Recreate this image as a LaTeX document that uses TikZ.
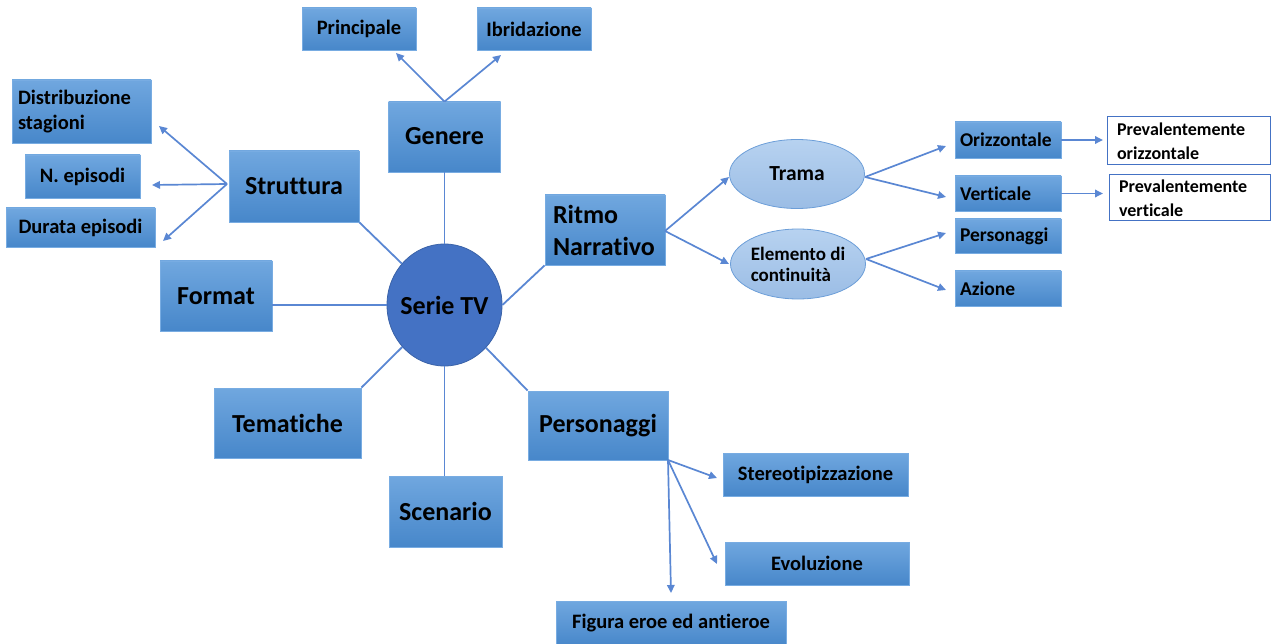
\documentclass[tikz,border=0pt]{standalone}
\usepackage{fontspec}
\setmainfont{Carlito}[Ligatures=NoCommon]
\usetikzlibrary{arrows.meta,shapes.geometric}
\definecolor{boxtop}{HTML}{70A7DF}
\definecolor{boxbot}{HTML}{4787CA}
\definecolor{boxline}{HTML}{78ACE2}
\definecolor{seriefill}{HTML}{4472C4}
\definecolor{serieline}{HTML}{3A62A8}
\definecolor{elltop}{HTML}{B7D2F0}
\definecolor{ellbot}{HTML}{9BBDE5}
\definecolor{ellline}{HTML}{6C9ED8}
\definecolor{conn}{HTML}{5A87D3}
\definecolor{prevline}{HTML}{4472C4}
\tikzset{
  bluebox/.style={rectangle, draw=boxline, line width=0.8pt, top color=boxtop, bottom color=boxbot, inner sep=0pt, text=black, font=\bfseries},
  bigtxt/.style={font=\fontsize{26}{32}\selectfont\bfseries},
  smalltxt/.style={font=\fontsize{20.5}{25}\selectfont\bfseries},
  righttxt/.style={font=\fontsize{19.5}{23}\selectfont\bfseries},
  lightell/.style={ellipse, draw=ellline, line width=0.8pt, top color=elltop, bottom color=ellbot, inner sep=0pt, text=black},
  prevbox/.style={rectangle, draw=prevline, line width=1pt, fill=white, inner sep=0pt, align=left, font=\fontsize{18}{24}\selectfont\bfseries},
  link/.style={draw=conn, line width=1.8pt},
  arr/.style={draw=conn, line width=1.7pt, -{Triangle[length=8pt,width=7.5pt]}},
}
\begin{document}
\begin{tikzpicture}[x=1pt,y=-1pt]
\useasboundingbox (0,0) rectangle (1271,644);
\begin{scope}
\clip (0,0) rectangle (1271,644);
% top level
\node[bluebox,bigtxt,minimum width=112pt,minimum height=70pt] (genere) at (444.5,137) {\raisebox{3pt}{Genere}};
\node[bluebox,smalltxt,minimum width=114pt,minimum height=42pt] (principale) at (359,29) {\raisebox{-4pt}{Principale}};
\node[bluebox,smalltxt,minimum width=114pt,minimum height=42pt] (ibrid) at (534,29) {Ibridazione};
\node[bluebox,bigtxt,minimum width=130pt,minimum height=71pt] (struttura) at (294,186.5) {Struttura};
\node[bluebox,smalltxt,minimum height=63pt,text width=127pt,inner xsep=6pt,align=left] (distrib) at (81.5,111.5) {Distribuzione\\stagioni};
\node[bluebox,smalltxt,minimum width=115pt,minimum height=43pt] (nepisodi) at (82.5,176.5) {N. episodi};
\node[bluebox,smalltxt,minimum width=149pt,minimum height=39pt] (durata) at (80.5,227.5) {Durata episodi};
\node[bluebox,bigtxt,minimum width=112pt,minimum height=70pt] (format) at (216,296) {Format};
\node[ellipse,draw=serieline,line width=0.8pt,fill=seriefill,minimum width=115pt,minimum height=122pt,inner sep=0pt,
      label={[bigtxt]center:Serie TV}] (serie) at (444.5,305) {};
\node[bluebox,bigtxt,minimum height=70pt,text width=104pt,inner xsep=8pt,align=left] (ritmo) at (605,230) {Ritmo\\Narrativo};
\node[bluebox,bigtxt,minimum width=147pt,minimum height=70pt] (tematiche) at (287.5,423) {Tematiche};
\node[bluebox,bigtxt,minimum width=113pt,minimum height=71pt] (scenario) at (445.5,511.5) {Scenario};
\node[bluebox,bigtxt,minimum width=140pt,minimum height=69pt] (personaggi) at (598,425.5) {Personaggi};
\node[bluebox,smalltxt,minimum width=185pt,minimum height=43pt] (stereo) at (815.5,474.5) {\raisebox{-4pt}{Stereotipizzazione}};
\node[bluebox,smalltxt,minimum width=184pt,minimum height=43pt] (evol) at (817,563.5) {\raisebox{-8pt}{Evoluzione}};
\node[bluebox,smalltxt,minimum width=230pt,minimum height=45pt] (figura) at (671,623.5) {\raisebox{-3pt}{Figura eroe ed antieroe}};
% ritmo branch
\node[lightell,minimum width=135pt,minimum height=69pt,
      label={[font=\fontsize{21.5}{25}\selectfont\bfseries]center:Trama}] (trama) at (797,174) {};
\node[lightell,minimum width=135pt,minimum height=70pt,
      label={[align=left,font=\fontsize{19}{21}\selectfont\bfseries]center:Elemento di\\continuità}] (elemento) at (798,264) {};
\node[bluebox,righttxt,minimum height=36pt,text width=96pt,inner xsep=5pt,align=left] (orizz) at (1008,140) {Orizzontale};
\node[bluebox,righttxt,minimum height=35pt,text width=96pt,inner xsep=5pt,align=left] (vert) at (1008,193.5) {Verticale};
\node[bluebox,righttxt,minimum height=34pt,text width=96pt,inner xsep=5pt,align=left] (pers2) at (1008,236) {Personaggi};
\node[bluebox,righttxt,minimum height=35pt,text width=96pt,inner xsep=5pt,align=left] (azione) at (1008,288.5) {Azione};
\node[prevbox,minimum height=48pt,text width=143pt,inner xsep=10pt] (prevo) at (1188.5,141) {Prevalentemente\\orizzontale};
\node[prevbox,minimum height=46pt,text width=141pt,inner xsep=10pt] (prevv) at (1189.5,198) {Prevalentemente\\verticale};
% arrow end points
\coordinate (eprinc) at (396,53);
\coordinate (eibrid) at (501,55);
\coordinate (shub) at (227,184);
\coordinate (edistr) at (159,126);
\coordinate (enep) at (152,185);
\coordinate (edur) at (163,241);
\coordinate (rhub) at (665,231);
\coordinate (etrama) at (729,177);
\coordinate (eelem) at (729,264);
\coordinate (thub) at (865,177);
\coordinate (eorizz) at (946,146);
\coordinate (evert) at (946,197);
\coordinate (ehub) at (866,259);
\coordinate (epers) at (946,233);
\coordinate (eaz) at (946,290);
\coordinate (eprevo) at (1103,140);
\coordinate (eprevv) at (1103,193.5);
\coordinate (phub) at (668,460);
\coordinate (estereo) at (717,478);
\coordinate (eevol) at (717,564);
\coordinate (efig) at (671,593);
% connectors from center
\draw[link] (genere.south) -- (serie.north);
\draw[link] (struttura.south east) -- (serie);
\draw[link] (serie.west) -- (serie.west -| format.east);
\draw[link] (serie.east) -- (ritmo.south west);
\draw[link] (tematiche.north east) -- (serie);
\draw[link] (serie.south) -- (serie.south |- scenario.north);
\draw[link] (personaggi.north west) -- (serie);
% arrows
\draw[arr] (genere.north) -- (eprinc);
\draw[arr] (genere.north) -- (eibrid);
\draw[arr] (shub) -- (edistr);
\draw[arr] (shub) -- (enep);
\draw[arr] (shub) -- (edur);
\draw[arr] (rhub) -- (etrama);
\draw[arr] (rhub) -- (eelem);
\draw[arr] (thub) -- (eorizz);
\draw[arr] (thub) -- (evert);
\draw[arr] (ehub) -- (epers);
\draw[arr] (ehub) -- (eaz);
\draw[arr] (orizz.east) -- (eprevo);
\draw[arr] (vert.east) -- (eprevv);
\draw[arr] (phub) -- (estereo);
\draw[arr] (phub) -- (eevol);
\draw[arr] (phub) -- (efig);
\end{scope}
\end{tikzpicture}
\end{document}
